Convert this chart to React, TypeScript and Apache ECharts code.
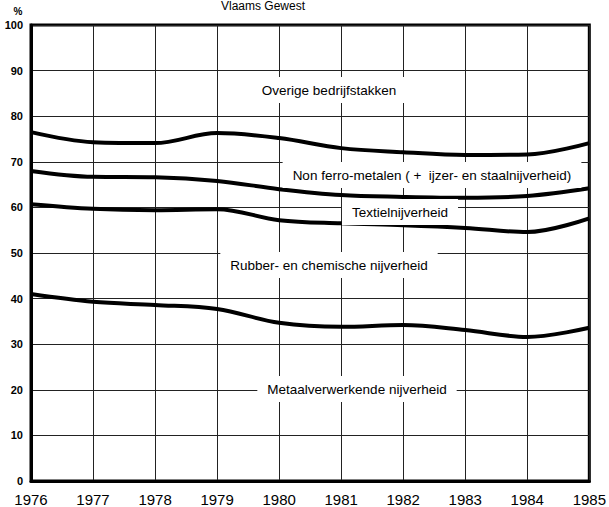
import React, { useEffect, useRef } from "react";
import * as echarts from "echarts";

const years = ["1976", "1977", "1978", "1979", "1980", "1981", "1982", "1983", "1984", "1985"];
// cumulative boundaries (%)
const overigeLower = [76.5, 74.3, 74.1, 76.3, 75.2, 73.0, 72.1, 71.5, 71.6, 74.1];
const nonFerroLower = [68.0, 66.7, 66.6, 65.8, 64.0, 62.7, 62.3, 62.1, 62.5, 64.2];
const textielLower = [60.7, 59.7, 59.4, 59.6, 57.2, 56.5, 56.1, 55.5, 54.6, 57.6];
const metaalUpper = [41.0, 39.3, 38.6, 37.7, 34.7, 33.8, 34.2, 33.1, 31.6, 33.6];
const yTicks = [0, 10, 20, 30, 40, 50, 60, 70, 80, 90, 100];

const regionLabels = [
  { text: "Overige bedrijfstakken", x: 329, y: 90 },
  { text: "Non ferro-metalen ( +  ijzer- en staalnijverheid)", x: 432, y: 175 },
  { text: "Textielnijverheid", x: 400, y: 212 },
  { text: "Rubber- en chemische nijverheid", x: 329, y: 265 },
  { text: "Metaalverwerkende nijverheid", x: 357, y: 389 },
];

const FONT = "'Liberation Sans', Arial, Helvetica, sans-serif";

export default function App() {
  const ref = useRef<HTMLDivElement>(null);
  useEffect(() => {
    if (!ref.current) return;
    const chart = echarts.init(ref.current, undefined, { renderer: "svg" });
    const mkLine = (name: string, data: number[]) => ({
      name,
      type: "line",
      data,
      smooth: 0.35,
      symbol: "none",
      lineStyle: { color: "#000", width: 4 },
      z: 5,
    });
    chart.setOption({
      animation: false,
      backgroundColor: "#fff",
      textStyle: { fontFamily: FONT },
      grid: { left: 31, right: 16, top: 25, bottom: 26, show: true, borderColor: "#000", borderWidth: 3, backgroundColor: "transparent" },
      xAxis: {
        type: "category",
        data: years,
        boundaryGap: false,
        axisLine: { show: true, lineStyle: { color: "#000", width: 3 } },
        axisTick: { show: false },
        axisLabel: { color: "#000", fontSize: 15, margin: 11, fontFamily: FONT, interval: 0 },
        splitLine: { show: true, lineStyle: { color: "#222", width: 1 } },
      },
      yAxis: {
        type: "value",
        min: 0,
        max: 100,
        interval: 10,
        axisLine: { show: true, lineStyle: { color: "#000", width: 3 } },
        axisTick: { show: false },
        axisLabel: {
          color: "#000",
          fontSize: 11,
          fontWeight: "bold",
          margin: 8,
          fontFamily: FONT,
          formatter: (v: number) => (yTicks.includes(v) ? String(v) : ""),
        },
        splitLine: { show: true, lineStyle: { color: "#222", width: 1 } },
      },
      series: [
        mkLine("Overige", overigeLower),
        mkLine("Non ferro", nonFerroLower),
        mkLine("Textiel", textielLower),
        mkLine("Metaal", metaalUpper),
      ],
      graphic: [
        {
          type: "text",
          x: 263,
          y: 6,
          style: { text: "Vlaams Gewest", font: `12px ${FONT}`, fill: "#000", textAlign: "center", textVerticalAlign: "middle" },
        },
        {
          type: "text",
          x: 18,
          y: 11,
          style: { text: "%", font: `bold 10px ${FONT}`, fill: "#000", textAlign: "center", textVerticalAlign: "middle" },
        },
        ...regionLabels.map((l) => ({
          type: "text",
          x: l.x,
          y: l.y,
          z: 10,
          style: {
            text: l.text,
            font: `13.5px ${FONT}`,
            fill: "#000",
            textAlign: "center",
            textVerticalAlign: "middle",
            backgroundColor: "#fff",
            padding: [6, 10],
          },
        })),
      ],
    });
    return () => chart.dispose();
  }, []);
  return <div ref={ref} style={{ width: 609, height: 507, position: "absolute", left: 0, top: 0 }} />;
}
